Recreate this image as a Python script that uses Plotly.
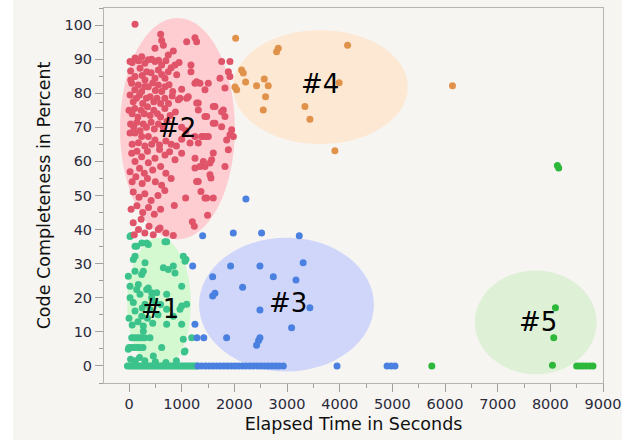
import plotly.graph_objects as go

# ---------------- data ----------------
red_x = [114, 601, 493, 652, 1095, 1252, 1284, 620,
         19, 114, 241, 367, 493, 620, 746, 841, 873, 1176, 1759, 1917, 60, 180, 300, 430, 560, 700, 950,
         209, 335, 557, 746, 1176, 1886, 1917, 114, 304, 493, 683, 905, 1727, 30, 420, 620, 800, 250,
         51, 177, 367, 557, 683, 1252, 1347, 1505, 1822, 1442, 1284, 32, 110, 240, 300, 450, 500, 620, 760, 830, 1000,
         936, 1095, 1285, 968, 1125, 1315, 1600, 20, 80, 140, 200, 260, 330, 400, 470, 530, 600, 680, 750, 820,
         1316, 1442, 1632, 1759, 1822, 1791, 1474, 0, 60, 110, 170, 230, 290, 350, 400, 470, 540, 600, 680, 780, 880,
         1632, 1759, 1949, 1600, 30, 90, 150, 210, 270, 330, 420, 480, 560, 650, 720, 1000, 1080,
         19, 114, 241, 367, 493, 1379, 1505, 1253, 1917, 1981, 1854, 1411, 1474, 1316, 1158, 60, 180, 300, 430, 580, 700, 800, 900, 1000,
         999, 873, 683, 493, 240, 51, 1253, 1569, 1886, 1600, 1411, 1537, 150, 350, 580, 770,
         114, 367, 1442, 1822, 1347, 1252, 1537, 20, 200, 290, 450, 600, 700,
         1556, 1284, 1315, 60, 130, 250, 350, 500, 620, 800,
         1366, 1442, 1600, 1075, 1474, 80, 190, 300, 420, 550, 680,
         860, 1492, 40, 150, 260, 370, 480, 600,
         1202, 1240, 841, 557, 588, 80, 180, 230, 300, 380, 460, 700, 100]
red_y = [100.2, 97.3, 93.2, 94.1, 95.1, 96.3, 95.1, 95.5,
         89.3, 90.3, 90.7, 89.8, 89.3, 88.3, 91.2, 92.4, 88.3, 88.3, 89.3, 89.3, 89.0, 89.5, 88.8, 90.0, 89.7, 89.5, 89.0,
         87.3, 86.3, 86.8, 86.3, 86.3, 86.3, 84.9, 84.9, 83.9, 84.4, 84.4, 85.4, 84.4, 86.5, 86.0, 85.5, 87.5, 85.2,
         82.9, 82.4, 81.9, 82.4, 81.9, 82.9, 82.9, 82.9, 81.5, 81.0, 83.4, 83.9, 81.0, 80.5, 82.0, 83.0, 80.8, 80.5, 82.5, 80.5, 81.2,
         78.1, 78.5, 77.1, 78.5, 79.0, 77.1, 76.1, 79.5, 77.5, 78.5, 79.5, 77.0, 78.5, 79.0, 77.5, 78.5, 77.0, 78.5, 77.0, 79.2,
         75.1, 73.2, 76.1, 74.6, 73.2, 75.1, 73.2, 75.0, 74.0, 75.5, 73.0, 75.0, 74.0, 76.0, 73.5, 75.0, 74.0, 73.0, 75.5, 73.5, 74.5,
         71.2, 70.2, 69.3, 71.2, 71.0, 70.0, 71.5, 69.0, 71.0, 70.0, 71.5, 69.5, 71.0, 70.0, 71.8, 70.0, 69.0,
         68.3, 68.3, 67.3, 67.3, 66.3, 67.3, 67.3, 67.3, 67.8, 67.3, 66.3, 67.3, 67.3, 65.4, 65.4, 65.0, 65.5, 64.5, 65.0, 64.8, 66.0, 65.0, 64.5, 66.5,
         62.4, 60.5, 61.9, 60.9, 61.4, 62.4, 60.9, 60.5, 63.4, 62.5, 60.0, 59.5, 63.0, 63.0, 63.5, 62.8,
         60.0, 59.6, 58.5, 58.5, 58.5, 58.1, 56.1, 57.0, 58.0, 56.5, 57.5, 58.5, 56.5,
         55.1, 54.1, 54.1, 54.0, 55.5, 53.5, 55.0, 54.0, 53.0, 55.0,
         51.2, 49.3, 49.3, 49.3, 49.3, 51.0, 49.5, 50.5, 48.5, 50.0, 51.5,
         47.1, 44.2, 46.0, 47.0, 45.0, 46.5, 44.5, 46.0,
         42.3, 41.0, 38.3, 40.0, 40.5, 42.0, 40.0, 43.0, 39.0, 41.0, 38.5, 39.0, 38.5]

teal_x = [19, 38, 146, 114, 241, 335, 367, 715, 683, 114, 82, 304, -13, 114, 241, 272, 652, 746, 841, 873,
          1031, 1063, 1082, 19, 177, 367, 209, 430, 82, 304, 493, 1000, 114, 146, 335, 525, 430, 715,
          1000, 1094, 968, 715, 841, 715, 1000, 1031, 1050, 620, 461, 51, 51, -13, 398, 272, 272, 241,
          0, 60, 170, 350, 450, 550, 20, 250, 400, 600, 100, 150, 200, 250, 300, 1190,
          0, 100, 150, 200, 266, 1063, 30, 120, 200, 300, 500, 700, 900,
          -30, 10, 50, 90, 130, 170, 210, 250, 290, 330, 370, 410, 450, 490, 530, 570, 610, 650,
          690, 730, 770, 810, 850, 890, 930, 970, 1010, 1050, 1090, 1130, 1170, 1210, 1250, 1290]
teal_y = [38.0, 38.3, 35.1, 35.1, 36.1, 36.1, 35.6, 36.4, 36.4, 32.2, 31.2, 30.3, 26.3, 27.8, 26.8, 27.8, 28.8, 28.3, 29.3, 27.3,
          32.2, 30.7, 31.2, 23.4, 23.9, 22.9, 21.0, 21.5, 18.6, 18.1, 19.0, 17.6, 16.1, 22.4, 22.4, 21.5, 20.0, 21.0,
          23.4, 18.1, 16.6, 16.6, 14.6, 12.2, 12.2, 7.8, 4.1, 5.4, 2.9, 8.3, 5.4, 4.9, 8.3, 11.7, 10.2, 14.6,
          14.0, 12.0, 13.0, 14.0, 12.5, 15.0, 20.0, 17.0, 16.5, 18.0, 8.3, 8.3, 8.3, 8.3, 8.3, 8.3,
          5.4, 5.4, 5.4, 5.4, 5.4, 4.4, 2.0, 1.5, 2.5, 1.5, 1.2, 1.0, 1.5,
          0, 0, 0, 0, 0, 0, 0, 0, 0, 0, 0, 0, 0, 0, 0, 0, 0, 0,
          0, 0, 0, 0, 0, 0, 0, 0, 0, 0, 0, 0, 0, 0, 0, 0]

blue_x = [1398, 1980, 2517, 3233, 2220, 1208, 1588, 1929, 2486, 2740, 3307, 3170, 2157, 1588, 1632,
          2486, 3087, 3434, 1252, 1290, 1420, 1853, 2486, 2423, 2460,
          1310, 1380, 1450, 1520, 1590, 1660, 1730, 1800, 1870, 1940, 2010, 2080, 2150, 2220,
          2290, 2360, 2430, 2500, 2570, 2640, 2710, 2780, 2850, 2930, 3950, 4900, 4980, 5050]
blue_y = [38.2, 39.0, 39.0, 38.2, 49.0, 29.3, 26.2, 29.3, 29.3, 26.2, 30.3, 25.2, 23.1, 20.5, 21.3,
          16.4, 11.2, 17.1, 12.2, 8.3, 8.3, 8.3, 8.3, 6.1, 7.5,
          0, 0, 0, 0, 0, 0, 0, 0, 0, 0, 0, 0, 0, 0,
          0, 0, 0, 0, 0, 0, 0, 0, 0, 0, 0, 0, 0, 0]

orange_x = [2025, 2138, 2170, 2214, 2011, 2044, 2423, 2568, 2643, 2593, 2549, 2802, 2834,
            3340, 3435, 4150, 3990, 3909, 6142]
orange_y = [96.1, 86.8, 85.9, 83.3, 81.8, 81.0, 82.2, 84.2, 82.2, 79.0, 75.1, 92.2, 93.2,
            76.1, 72.4, 94.1, 83.1, 63.1, 82.2]

green_x = [8134, 8159, 8097, 8065, 8040, 5750, 8500, 8560, 8620, 8680, 8750, 8810]
green_y = [58.8, 58.1, 17.1, 8.3, 0.2, 0, 0, 0, 0, 0, 0, 0]

# cluster regions: label, centre x, centre y, half-width, half-height
cluster_labels = ["#1", "#2", "#3", "#4", "#5"]
cluster_cx = [570, 920, 2990, 3634, 7723]
cluster_cy = [18.3, 69.6, 18.0, 81.8, 12.8]
cluster_rx = [607, 1091, 1660, 1660, 1157]
cluster_ry = [19.3, 32.5, 19.6, 16.7, 15.2]
label_x = [590, 910, 3017, 3624, 7760]
label_y = [16.6, 69.7, 18.6, 82.7, 13.0]

x_ticks = [0, 1000, 2000, 3000, 4000, 5000, 6000, 7000, 8000, 9000]
y_ticks = [0, 10, 20, 30, 40, 50, 60, 70, 80, 90, 100]

# ---------------- styling ----------------
fills = ["#d4f8cf", "#fdcdd2", "#d0d6fa", "#fde8d3", "#def0d6"]
series = [
    (teal_x, teal_y, "#3cc38c"),
    (blue_x, blue_y, "#4a80e0"),
    (orange_x, orange_y, "#e0924a"),
    (green_x, green_y, "#2db83c"),
    (red_x, red_y, "#e05469"),
]

fig = go.Figure()
for xs, ys, col in series:
    fig.add_trace(go.Scatter(x=xs, y=ys, mode="markers",
                             marker=dict(size=7, color=col, line=dict(width=0)),
                             showlegend=False, hoverinfo="skip"))

shapes = [dict(type="rect", xref="paper", yref="paper", x0=-0.182, x1=1.038, y0=-0.152, y1=1.05,
               fillcolor="#f6f5f2", line=dict(width=0), layer="below")]
for cx, cy, rx, ry, fc in zip(cluster_cx, cluster_cy, cluster_rx, cluster_ry, fills):
    shapes.append(dict(type="circle", xref="x", yref="y", x0=cx - rx, x1=cx + rx,
                       y0=cy - ry, y1=cy + ry, fillcolor=fc, line=dict(width=0), layer="below"))

annotations = [dict(x=lx, y=ly, text=t, showarrow=False, xref="x", yref="y",
                    font=dict(family="DejaVu Sans", size=26, color="#000000"))
               for t, lx, ly in zip(cluster_labels, label_x, label_y)]

axis_common = dict(showgrid=False, zeroline=False, showline=True, mirror=True,
                   linecolor="#b4b4b4", linewidth=1, ticks="outside", ticklen=8,
                   tickcolor="#a0a0a0", tickwidth=1, automargin=False,
                   tickfont=dict(family="DejaVu Sans", size=14.5, color="#2a2a3a"))

fig.update_layout(
    width=629, height=442,
    margin=dict(l=104, r=26, t=8, b=59),
    paper_bgcolor="#ffffff", plot_bgcolor="#ffffff",
    shapes=shapes, annotations=annotations,
    hovermode=False,
    xaxis=dict(range=[-475, 9000], tickvals=x_ticks,
               minor=dict(dtick=500, ticks="outside", ticklen=4, tickcolor="#a0a0a0"),
               title=dict(text="Elapsed Time in Seconds", standoff=6,
                          font=dict(family="DejaVu Sans", size=17.5, color="#111111")),
               **axis_common),
    yaxis=dict(range=[-5, 105], tickvals=y_ticks,
               minor=dict(dtick=5, ticks="outside", ticklen=4, tickcolor="#a0a0a0"),
               title=dict(text="Code Completeness in Percent", standoff=9,
                          font=dict(family="DejaVu Sans", size=17.5, color="#111111")),
               **axis_common),
)

fig.write_html("out.html", config={"displayModeBar": False},
               post_script="document.body.style.margin='0';")
